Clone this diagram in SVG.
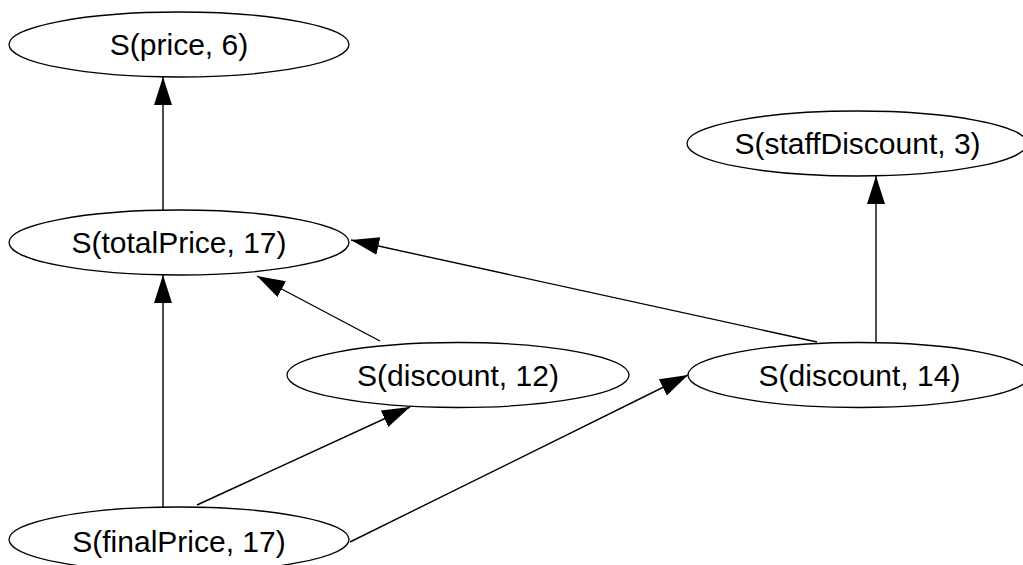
<svg xmlns="http://www.w3.org/2000/svg" width="1023" height="565" viewBox="0 0 1023 565">
<style>
.node ellipse{fill:#fff;stroke:#000;stroke-width:1.3}
.node text{font-family:"Liberation Sans",Arial,sans-serif;font-size:30px;text-anchor:middle;fill:#000}
.edges line{stroke:#000;stroke-width:1.4;marker-end:url(#ah)}
</style>
<defs>
<marker id="ah" markerUnits="userSpaceOnUse" markerWidth="30" markerHeight="20" refX="28" refY="9" orient="auto" viewBox="0 0 30 20">
<path d="M0,0 L28,9 L0,18 z" fill="#000"/>
</marker>
</defs>
<rect width="1023" height="565" fill="#fff"/>
<g class="edges">
<line x1="163" y1="210" x2="163" y2="77"/>
<line x1="163" y1="507" x2="163" y2="275"/>
<line x1="380" y1="341" x2="257" y2="276"/>
<line x1="817" y1="342" x2="351" y2="240"/>
<line x1="876" y1="342" x2="876" y2="176"/>
<line x1="197" y1="505" x2="410" y2="407"/>
<line x1="350" y1="542" x2="688" y2="375"/>
</g>
<g id="price" class="node"><ellipse cx="179" cy="44.5" rx="170" ry="32.5"/><text x="179" y="55">S(price, 6)</text></g>
<g id="totalPrice" class="node"><ellipse cx="179" cy="242.5" rx="170" ry="32.5"/><text x="179" y="253">S(totalPrice, 17)</text></g>
<g id="staffDiscount" class="node"><ellipse cx="857" cy="143.5" rx="170" ry="32.5"/><text x="857.5" y="154">S(staffDiscount, 3)</text></g>
<g id="discount12" class="node"><ellipse cx="458" cy="375" rx="171" ry="32.5"/><text x="458" y="385.5">S(discount, 12)</text></g>
<g id="discount14" class="node"><ellipse cx="859" cy="375" rx="171" ry="32.5"/><text x="859.5" y="385.5">S(discount, 14)</text></g>
<g id="finalPrice" class="node"><ellipse cx="179" cy="539.5" rx="170" ry="32.5"/><text x="179" y="552">S(finalPrice, 17)</text></g>
</svg>
